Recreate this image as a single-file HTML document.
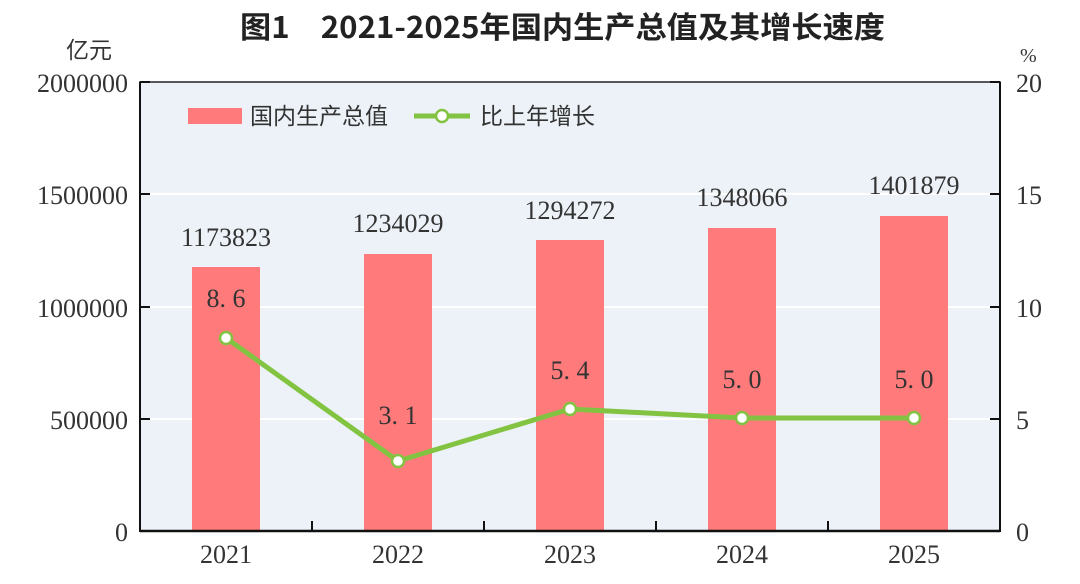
<!DOCTYPE html>
<html><head><meta charset="utf-8"><style>
html,body{margin:0;padding:0;background:#fff;width:1080px;height:584px;overflow:hidden}
text{font-family:"Liberation Serif","Noto Serif CJK SC",serif;fill:#333}
</style></head><body>
<svg width="1080" height="584" viewBox="0 0 1080 584" xmlns="http://www.w3.org/2000/svg">
<text x="240" y="38" textLength="645" lengthAdjust="spacingAndGlyphs" style="font-family:'Noto Sans CJK SC',sans-serif;font-weight:bold;font-size:30px;fill:#222">图1　2021-2025年国内生产总值及其增长速度</text>
<text x="66" y="58" style="font-family:'Noto Sans CJK SC',sans-serif;font-size:23px">亿元</text>
<text x="1020" y="62" style="font-size:20px">%</text>
<rect x="140" y="82" width="860" height="449" fill="#ecf2f7" stroke="#222" stroke-width="1.5"/>
<g stroke="#fff" stroke-width="2">
<line x1="141" y1="194" x2="999" y2="194"/><line x1="141" y1="307" x2="999" y2="307"/><line x1="141" y1="419" x2="999" y2="419"/>
</g>
<g fill="#ff7b7b">
<rect x="192" y="267" width="68" height="264"/>
<rect x="364" y="254" width="68" height="277"/>
<rect x="536" y="240" width="68" height="291"/>
<rect x="708" y="228" width="68" height="303"/>
<rect x="880" y="216" width="68" height="315"/>
</g>
<line x1="140" y1="531" x2="1000" y2="531" stroke="#111" stroke-width="2.5"/>
<line x1="140" y1="82" x2="140" y2="532" stroke="#111" stroke-width="2"/>
<line x1="1000" y1="82" x2="1000" y2="532" stroke="#111" stroke-width="2"/>
<g stroke="#111" stroke-width="2">
<line x1="140" y1="82" x2="150" y2="82"/><line x1="140" y1="194" x2="150" y2="194"/><line x1="140" y1="307" x2="150" y2="307"/><line x1="140" y1="419" x2="150" y2="419"/>
<line x1="990" y1="82" x2="1000" y2="82"/><line x1="990" y1="194" x2="1000" y2="194"/><line x1="990" y1="307" x2="1000" y2="307"/><line x1="990" y1="419" x2="1000" y2="419"/>
<line x1="312" y1="521" x2="312" y2="531"/><line x1="484" y1="521" x2="484" y2="531"/><line x1="656" y1="521" x2="656" y2="531"/><line x1="828" y1="521" x2="828" y2="531"/>
</g>
<g font-size="26" text-anchor="end">
<text x="128" y="92">2000000</text><text x="128" y="204">1500000</text><text x="128" y="317">1000000</text><text x="128" y="429">500000</text><text x="128" y="541">0</text>
</g>
<g font-size="26" text-anchor="start">
<text x="1016" y="92">20</text><text x="1016" y="204">15</text><text x="1016" y="317">10</text><text x="1016" y="429">5</text><text x="1016" y="541">0</text>
</g>
<g font-size="26" text-anchor="middle">
<text x="226" y="563">2021</text><text x="398" y="563">2022</text><text x="570" y="563">2023</text><text x="742" y="563">2024</text><text x="914" y="563">2025</text>
<text x="226" y="246">1173823</text><text x="398" y="232">1234029</text><text x="570" y="219">1294272</text><text x="742" y="206">1348066</text><text x="914" y="194">1401879</text>
<text x="226" y="307">8. 6</text><text x="398" y="424">3. 1</text><text x="570" y="379">5. 4</text><text x="742" y="388">5. 0</text><text x="914" y="388">5. 0</text>
</g>
<polyline points="226,338 398,461 570,409 742,418 914,418" fill="none" stroke="#82c341" stroke-width="5" stroke-linejoin="round"/>
<g fill="#fff" stroke="#82c341" stroke-width="2.5">
<circle cx="226" cy="338" r="6"/><circle cx="398" cy="461" r="6"/><circle cx="570" cy="409" r="6"/><circle cx="742" cy="418" r="6"/><circle cx="914" cy="418" r="6"/>
</g>
<rect x="188" y="108" width="54" height="16" fill="#ff7b7b"/>
<text x="250" y="124" style="font-family:'Noto Sans CJK SC',sans-serif;font-size:23px">国内生产总值</text>
<line x1="414" y1="116" x2="470" y2="116" stroke="#82c341" stroke-width="5"/>
<circle cx="442" cy="116" r="6" fill="#fff" stroke="#82c341" stroke-width="2.5"/>
<text x="480" y="124" style="font-family:'Noto Sans CJK SC',sans-serif;font-size:23px">比上年增长</text>
</svg>
</body></html>
